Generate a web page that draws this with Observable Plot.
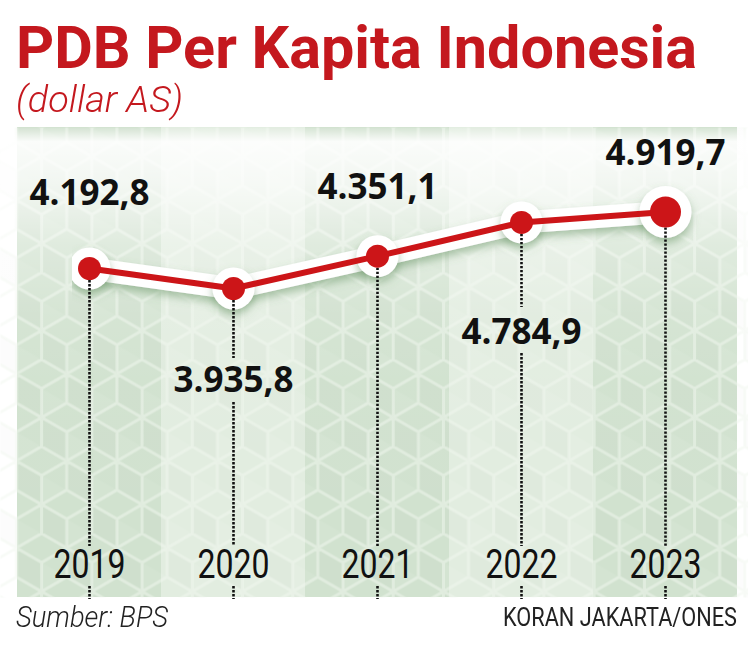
<!DOCTYPE html>
<html>
<head>
<meta charset="utf-8">
<script src="https://cdn.jsdelivr.net/npm/d3@7"></script>
<script src="https://cdn.jsdelivr.net/npm/@observablehq/plot@0.6"></script>
<style>
  html, body { margin: 0; padding: 0; background: #ffffff; }
  #wrap { position: relative; width: 748px; height: 654px; overflow: hidden; }
  .fit { position: absolute; white-space: nowrap; transform-origin: 0 0; }
  #title { left: 16px; top: 14px; font-family: Roboto, sans-serif; font-weight: bold; font-size: 60px; line-height: 68px; color: #c4181e; }
  #subtitle { left: 16px; top: 80px; font-family: Roboto, sans-serif; font-style: italic; font-weight: 300; font-size: 36px; line-height: 40px; color: #c4181e; }
  #chart { position: absolute; left: 0; top: 127px; }
  #source { left: 16px; top: 600px; font-family: Roboto, sans-serif; font-style: italic; font-weight: 300; font-size: 30px; line-height: 34px; color: #222; }
  #credit { left: 503px; top: 603px; font-family: Roboto, sans-serif; font-weight: 400; font-size: 25px; line-height: 30px; color: #222; }
</style>
</head>
<body>
<div id="wrap">
  <div id="title" class="fit">PDB Per Kapita Indonesia</div>
  <div id="subtitle" class="fit">(dollar AS)</div>
  <div id="chart"></div>
  <div id="source" class="fit">Sumber: BPS</div>
  <div id="credit" class="fit">KORAN JAKARTA/ONES</div>
</div>
<script>
// ---- data ----
const years = ["2019", "2020", "2021", "2022", "2023"];
const values = [4192.8, 3935.8, 4351.1, 4784.9, 4919.7];

// ---- layout / style config ----
const W = 748, H = 470, TOP = 127;
const red = "#cc1518";
const fmt = d3.formatLocale({decimal: ",", thousands: ".", grouping: [3]}).format(",.1f");
const data = years.map((y, i) => ({year: y, value: values[i], label: fmt(values[i]), i}));

// label offsets (px) relative to each point: negative = above
const labelDy = {"2019": -75, "2020": 92, "2021": -68, "2022": 110, "2023": -58};
// dotted leader gaps, page pixel y ranges [from, to]
const yearTextTop = 546, yearTextBottom = 586, panelBottom = TOP + H;
const gapBelowLabel = {"2020": [358, 402], "2022": [307, 353]};

const xOpts = {type: "band", domain: years, range: [16, 738], padding: 0};
const yOpts = {type: "linear", domain: [3000, 5500], range: [233.8, 39.3]};
const yScale = Plot.scale({y: yOpts});
const inv = (pageY) => yScale.invert(pageY - TOP);

// dotted rule segments
const segs = [];
data.forEach(d => {
  const cuts = [];
  if (gapBelowLabel[d.year]) cuts.push(gapBelowLabel[d.year]);
  cuts.push([yearTextTop, yearTextBottom]);
  let start = d.value;
  cuts.forEach(([a, b]) => {
    segs.push({year: d.year, y1: start, y2: inv(a)});
    start = inv(b);
  });
  segs.push({year: d.year, y1: start, y2: inv(panelBottom + 2)});
});

const small = data.filter(d => d.year !== "2023");
const big = data.filter(d => d.year === "2023");

const plot = Plot.plot({
  width: W,
  height: H,
  margin: 0,
  x: {...xOpts, axis: null},
  y: {...yOpts, axis: null},
  style: {background: "transparent", overflow: "visible"},
  marks: [
    // bands
    Plot.cell(data, {x: "year", fill: d => d.i % 2 === 0 ? "#d1e2cf" : "#e2ede0", inset: 0}),
    // cube pattern
    Plot.frame({fill: "url(#cubes)", stroke: null}),
    // top fade
    Plot.frame({fill: "url(#fade)", stroke: null}),
    // halo line (first line mark) and halo dots (first two dot marks)
    Plot.line(data, {x: "year", y: "value", stroke: "white", strokeWidth: 22, strokeLinejoin: "round", strokeLinecap: "round"}),
    Plot.dot(small, {x: "year", y: "value", r: 21, fill: "white"}),
    Plot.dot(big, {x: "year", y: "value", r: 26, fill: "white"}),
    // dotted leaders
    Plot.ruleX(segs, {x: "year", y1: "y1", y2: "y2", stroke: "#111", strokeWidth: 2.6, strokeDasharray: "2.4,1.6"}),
    // red line
    Plot.line(data, {x: "year", y: "value", stroke: red, strokeWidth: 6, strokeLinejoin: "round"}),
    Plot.dot(small, {x: "year", y: "value", r: 11.5, fill: red}),
    Plot.dot(big, {x: "year", y: "value", r: 15.5, fill: red}),
    // value labels
    ...data.map(d => Plot.text([d], {
      x: "year", y: "value", text: "label", dy: labelDy[d.year],
      fontSize: 35, fontWeight: "bold", fill: "#111", fontFamily: "'Open Sans', sans-serif"
    })),
    // year labels
    Plot.text(years, {
      x: d => d, text: d => d, frameAnchor: "bottom", dy: -20,
      fontSize: 40, fill: "#111", fontFamily: "Roboto, sans-serif"
    })
  ]
});

// defs: cube pattern + fade gradient + shadow filter
const svg = d3.select(plot);
const defs = svg.insert("defs", ":first-child");
const r = 29, w = Math.sqrt(3) * r, h = 3 * r;
const pat = defs.append("pattern").attr("id", "cubes").attr("patternUnits", "userSpaceOnUse")
  .attr("width", w).attr("height", h).attr("x", 16).attr("y", 0);
const centers = [[w / 2, 0], [w / 2, h], [0, 1.5 * r], [w, 1.5 * r], [-w / 2, 0], [1.5 * w, 0], [-w / 2, h], [1.5 * w, h]];
let pathD = "";
const ang = a => a * Math.PI / 180;
centers.forEach(([cx, cy]) => {
  const p = a => [cx + r * Math.cos(ang(a)), cy + r * Math.sin(ang(a))];
  pat.append("path").attr("d", `M${cx},${cy}L${p(30)}L${p(90)}Z`).attr("fill", "#ffffff").attr("fill-opacity", 0.06);
  pat.append("path").attr("d", `M${cx},${cy}L${p(90)}L${p(150)}L${p(210)}Z`).attr("fill", "#000000").attr("fill-opacity", 0.012);
  const v = [-90, -30, 30, 90, 150, 210].map(p);
  pathD += "M" + v.map(q => q.join(",")).join("L") + "Z";
  [90, -30, 210].forEach(a => { pathD += `M${cx},${cy}L${p(a).join(",")}`; });
});
pat.append("path").attr("d", pathD).attr("fill", "none").attr("stroke", "#f1f7f0").attr("stroke-opacity", 0.5).attr("stroke-width", 3);

const grad = defs.append("linearGradient").attr("id", "fade").attr("x1", 0).attr("y1", 0).attr("x2", 0).attr("y2", 1);
[[0, 0.1], [0.03, 0.9], [0.12, 0.72], [0.25, 0.32], [0.4, 0.1], [0.55, 0.02], [1, 0]].forEach(([o, a]) =>
  grad.append("stop").attr("offset", o).attr("stop-color", "#ffffff").attr("stop-opacity", a));

const filt = defs.append("filter").attr("id", "shadow").attr("filterUnits", "userSpaceOnUse")
  .attr("x", 0).attr("y", 0).attr("width", W).attr("height", H);
filt.append("feDropShadow").attr("dx", 0).attr("dy", 5).attr("stdDeviation", 4).attr("flood-color", "#5f8f5c").attr("flood-opacity", 0.5);

// apply the shadow to the halo marks (picked by their order in the SVG)
const lineGroups = svg.selectAll('g[aria-label="line"]').nodes();
const dotGroups = svg.selectAll('g[aria-label="dot"]').nodes();
[lineGroups[0], dotGroups[0], dotGroups[1]].forEach(g => g && g.setAttribute("filter", "url(#shadow)"));

// condense year labels to the reference width
svg.selectAll("text").filter(function () { return years.includes(this.textContent); })
  .attr("textLength", 72).attr("lengthAdjust", "spacingAndGlyphs");

document.getElementById("chart").appendChild(plot);

// horizontally condense HTML texts to the reference widths
function fit(id, target) {
  const el = document.getElementById(id);
  const wdt = el.getBoundingClientRect().width;
  el.style.transform = `scaleX(${target / wdt})`;
}
fit("title", 681);
fit("subtitle", 167);
fit("source", 152);
fit("credit", 234);
</script>
</body>
</html>
